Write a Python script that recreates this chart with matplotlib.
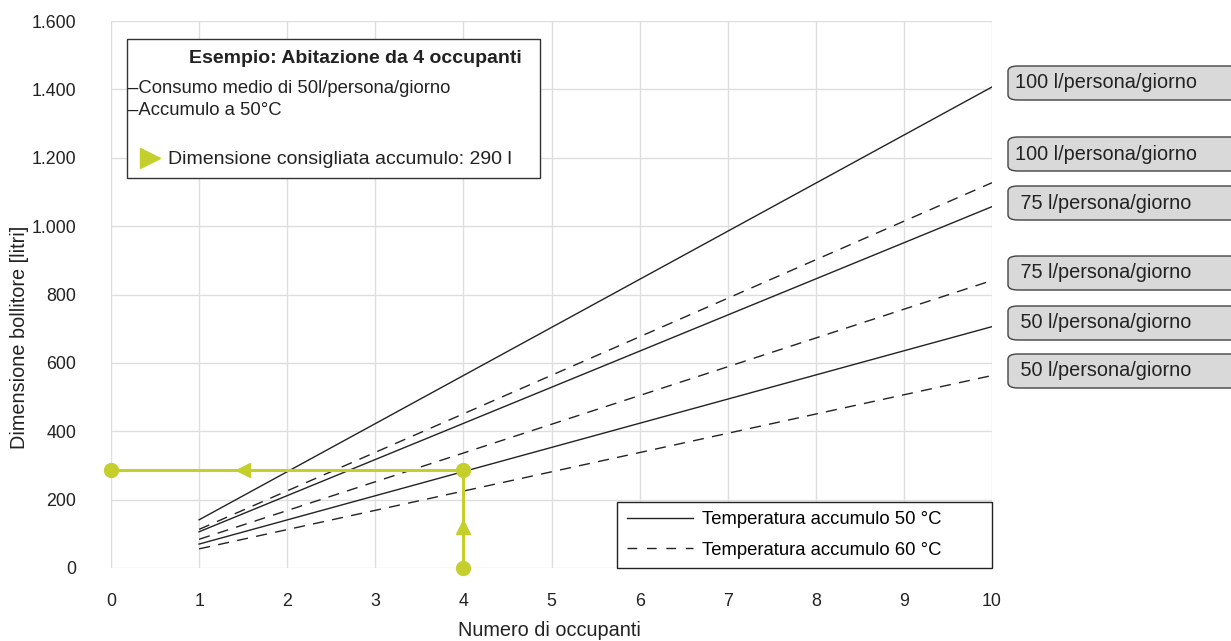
import matplotlib.pyplot as plt
from matplotlib.patches import FancyBboxPatch, Rectangle
from matplotlib.lines import Line2D

plt.rcParams['font.family'] = ['Liberation Sans', 'DejaVu Sans']

# data
occupants = [1, 10]
sol_100 = [141, 1407]
das_100 = [113, 1127]
sol_75 = [106, 1057]
das_75 = [84, 841]
sol_50 = [70, 706]
das_50 = [56, 563]
series = [sol_100, das_100, sol_75, das_75, sol_50, das_50]
styles = ['-', '--', '-', '--', '-', '--']
box_labels = ['100 l/persona/giorno', '100 l/persona/giorno', ' 75 l/persona/giorno',
              ' 75 l/persona/giorno', ' 50 l/persona/giorno', ' 50 l/persona/giorno']
box_y_px = [83, 154, 203, 273, 323, 371]

example_n = 4
example_size = 288

green = '#c5cf2c'
ink = '#222222'
W, H = 1231, 641

fig = plt.figure(figsize=(12.31, 6.41), dpi=100)
ax = fig.add_axes([111/W, 73/H, 881/W, 547/H])

for ys, ls in zip(series, styles):
    if ls == '-':
        ax.plot(occupants, ys, color=ink, lw=1.0, ls='-')
    else:
        ax.plot(occupants, ys, color=ink, lw=1.0, ls=(0, (8, 6)))

# green example lines
ax.plot([example_n, 0], [example_size, example_size], color=green, lw=2.2, clip_on=False)
ax.plot([example_n, example_n], [0, example_size], color=green, lw=2.2, clip_on=False)
ax.plot([0, example_n, example_n], [example_size, example_size, 0], 'o', color=green,
        ms=10, clip_on=False, zorder=5)
ax.plot([1.5], [example_size], marker='<', color=green, ms=10, zorder=5)
ax.plot([example_n], [120], marker='^', color=green, ms=10, zorder=5)

ax.set_xlim(0, 10)
ax.set_ylim(0, 1600)
ax.set_xticks(range(0, 11))
ax.set_yticks(range(0, 1601, 200))
ax.set_yticklabels([f'{v:,}'.replace(',', '.') for v in range(0, 1601, 200)])
ax.grid(True, color='#dedede', lw=1.0)
ax.set_axisbelow(True)
for s in ax.spines.values():
    s.set_visible(False)
ax.tick_params(axis='y', length=0, labelsize=12.8, colors=ink, pad=25)
ax.tick_params(axis='x', length=0, labelsize=12.8, colors=ink, pad=18)
fig.text(549/W, 1 - 631/H, 'Numero di occupanti', ha='center', va='center',
         fontsize=14.3, color=ink)
fig.text(20/W, 1 - 337/H, 'Dimensione bollitore [litri]', ha='center', va='center',
         rotation=90, fontsize=14.3, color=ink)

# legend
h1 = Line2D([], [], color=ink, lw=1.0, ls='-')
h2 = Line2D([], [], color=ink, lw=1.0, ls=(0, (7, 7)))
pad_sp = ' ' * 8
leg = ax.legend([h1, h2], ['Temperatura accumulo 50 °C' + pad_sp,
                           'Temperatura accumulo 60 °C' + pad_sp],
                loc='lower right', bbox_to_anchor=(1.0, 0.0), fontsize=13.3,
                fancybox=False, edgecolor=ink, framealpha=1, handlelength=3.6,
                handletextpad=0.5, borderpad=0.5, labelspacing=0.72, borderaxespad=0.0)
leg.get_frame().set_linewidth(1.0)

# example box
ax.add_patch(Rectangle((0.0182, 0.713), 0.4688, 0.254, transform=ax.transAxes,
                       facecolor='white', edgecolor='#333333', lw=1.0, zorder=6))
ax.text(0.277, 0.932, 'Esempio: Abitazione da 4 occupanti', transform=ax.transAxes,
        ha='center', va='center', fontsize=14, fontweight='bold', color=ink, zorder=7)
ax.text(0.0193, 0.8775, '–Consumo medio di 50l/persona/giorno', transform=ax.transAxes,
        ha='left', va='center', fontsize=13.3, color=ink, zorder=7)
ax.text(0.0193, 0.8355, '–Accumulo a 50°C', transform=ax.transAxes,
        ha='left', va='center', fontsize=13.3, color=ink, zorder=7)
ax.plot([0.0443], [0.7495], marker='>', color=green, ms=14, transform=ax.transAxes,
        zorder=7, clip_on=False)
ax.text(0.0647, 0.7475, 'Dimensione consigliata accumulo: 290 l', transform=ax.transAxes,
        ha='left', va='center', fontsize=14, color=ink, zorder=7)

# right labels
for lab, py in zip(box_labels, box_y_px):
    fy = 1 - py / H
    fig.patches.append(FancyBboxPatch((1008/W, fy - 17/H), 240/W, 34/H,
                                      boxstyle='round,pad=0,rounding_size=0.008',
                                      transform=fig.transFigure, facecolor='#d9d9d9',
                                      edgecolor='#444444', lw=1.0))
    fig.text(1015/W, fy, lab, ha='left', va='center', fontsize=14.3, color=ink)

fig.savefig('out.png', dpi=100)
